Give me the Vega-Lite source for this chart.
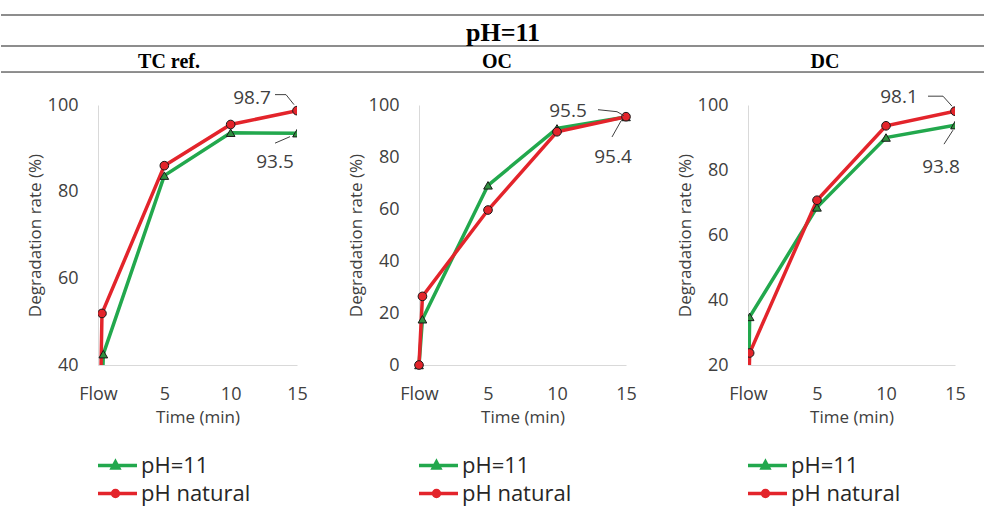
{
  "$schema": "https://vega.github.io/schema/vega-lite/v6.json",
  "padding": {"left": 0, "top": 14, "right": 0, "bottom": 0},
  "background": "white",
  "datasets": {
    "d": [
      {"panel": "TC ref.", "series": "pH=11", "t": 0, "rate": 0},
      {"panel": "TC ref.", "series": "pH=11", "t": 0.4, "rate": 42.5},
      {"panel": "TC ref.", "series": "pH=11", "t": 5, "rate": 83.7},
      {"panel": "TC ref.", "series": "pH=11", "t": 10, "rate": 93.6},
      {"panel": "TC ref.", "series": "pH=11", "t": 15, "rate": 93.5},
      {"panel": "TC ref.", "series": "pH natural", "t": 0, "rate": 0},
      {"panel": "TC ref.", "series": "pH natural", "t": 0.3, "rate": 51.9},
      {"panel": "TC ref.", "series": "pH natural", "t": 5, "rate": 86},
      {"panel": "TC ref.", "series": "pH natural", "t": 10, "rate": 95.5},
      {"panel": "TC ref.", "series": "pH natural", "t": 15, "rate": 98.7},
      {"panel": "OC", "series": "pH=11", "t": 0, "rate": 0},
      {"panel": "OC", "series": "pH=11", "t": 0.25, "rate": 17.6},
      {"panel": "OC", "series": "pH=11", "t": 5, "rate": 69.1},
      {"panel": "OC", "series": "pH=11", "t": 10, "rate": 91},
      {"panel": "OC", "series": "pH=11", "t": 15, "rate": 95.4},
      {"panel": "OC", "series": "pH natural", "t": 0, "rate": 0},
      {"panel": "OC", "series": "pH natural", "t": 0.25, "rate": 26.4},
      {"panel": "OC", "series": "pH natural", "t": 5, "rate": 59.6},
      {"panel": "OC", "series": "pH natural", "t": 10, "rate": 89.7},
      {"panel": "OC", "series": "pH natural", "t": 15, "rate": 95.5},
      {"panel": "DC", "series": "pH=11", "t": 0, "rate": 0},
      {"panel": "DC", "series": "pH=11", "t": 0.12, "rate": 34.8},
      {"panel": "DC", "series": "pH=11", "t": 5, "rate": 68.5},
      {"panel": "DC", "series": "pH=11", "t": 10, "rate": 90},
      {"panel": "DC", "series": "pH=11", "t": 15, "rate": 93.8},
      {"panel": "DC", "series": "pH natural", "t": 0, "rate": 0},
      {"panel": "DC", "series": "pH natural", "t": 0.12, "rate": 23.7},
      {"panel": "DC", "series": "pH natural", "t": 5, "rate": 70.7},
      {"panel": "DC", "series": "pH natural", "t": 10, "rate": 93.6},
      {"panel": "DC", "series": "pH natural", "t": 15, "rate": 98.1}
    ],
    "titles": [
      {"level": "main", "label": "pH=11"},
      {"level": "panel", "label": "TC ref."},
      {"level": "panel", "label": "OC"},
      {"level": "panel", "label": "DC"}
    ]
  },
  "bounds": "flush",
  "spacing": 29,
  "resolve": {"scale": {"x": "independent", "y": "independent", "color": "independent"}},
  "vconcat": [
    {
      "width": 984,
      "height": 61,
      "data": {"name": "titles"},
      "layer": [
        {
          "mark": {"type": "rule", "color": "#8c8c8c", "strokeWidth": 1.5},
          "encoding": {"y": {"datum": 0, "type": "quantitative", "scale": {"domain": [0, 61], "reverse": true}, "axis": null}}
        },
        {
          "mark": {"type": "rule", "color": "#8c8c8c", "strokeWidth": 1.5},
          "encoding": {"y": {"datum": 33, "type": "quantitative"}}
        },
        {
          "mark": {"type": "rule", "color": "#8c8c8c", "strokeWidth": 1.5},
          "encoding": {"y": {"datum": 61, "type": "quantitative"}}
        },
        {
          "transform": [{"filter": "datum.level == 'main'"}],
          "mark": {"type": "text", "font": "Liberation Serif", "fontWeight": "bold", "fontSize": 26, "baseline": "alphabetic", "dx": 10, "color": "black"},
          "encoding": {
            "text": {"field": "label", "type": "nominal"},
            "y": {"datum": 27.3, "type": "quantitative"}
          }
        },
        {
          "transform": [{"filter": "datum.level == 'panel'"}],
          "mark": {"type": "text", "font": "Liberation Serif", "fontWeight": "bold", "fontSize": 20, "baseline": "alphabetic", "dx": 4, "color": "black"},
          "encoding": {
            "text": {"field": "label", "type": "nominal"},
            "x": {"field": "label", "type": "nominal", "scale": {"type": "band", "domain": ["TC ref.", "OC", "DC"], "paddingInner": 0, "paddingOuter": 0}, "axis": null},
            "y": {"datum": 56, "type": "quantitative"}
          }
        }
      ]
    },
    {
      "bounds": "flush",
      "spacing": 0,
      "hconcat": [
        {"width": 97, "height": 1, "data": {"values": []}, "mark": "point"},
        {
          "bounds": "flush",
          "spacing": 122,
          "resolve": {"scale": {"x": "independent", "y": "independent", "color": "independent"}, "legend": {"color": "independent"}},
          "hconcat": [
            {
              "width": 199,
              "height": 260,
              "data": {"name": "d"},
              "transform": [{"filter": "datum.panel == 'TC ref.'"}],
              "encoding": {
                "x": {"field": "t", "type": "quantitative", "scale": {"domain": [0, 15]}, "axis": {"values": [0, 5, 10, 15], "labelExpr": "datum.value == 0 ? 'Flow' : datum.label", "title": "Time (min)"}},
                "y": {"field": "rate", "type": "quantitative", "scale": {"domain": [40, 100]}, "axis": {"values": [40, 60, 80, 100], "title": "Degradation rate (%)"}}
              },
              "layer": [
                {
                  "mark": {"type": "line", "strokeWidth": 3.5, "clip": true},
                  "encoding": {"color": {"field": "series", "type": "nominal", "scale": {"domain": ["pH=11", "pH natural"], "range": ["#22a84d", "#e3242b"]},
                    "legend": {"encode": {"symbols": {"update": {
                      "shape": {"signal": "datum.value === 'pH=11' ? 'M-1.28,0L0.72,0M-0.28,-0.16L-0.13,0.12L-0.43,0.12Z' : 'M-1.28,0L0.72,0M-0.42,0A0.14,0.14 0 1,0 -0.14,0A0.14,0.14 0 1,0 -0.42,0Z'"},
                      "fill": {"signal": "datum.value === 'pH=11' ? '#2f8f3f' : '#e3242b'"},
                      "stroke": {"signal": "datum.value === 'pH=11' ? '#22a84d' : '#e3242b'"},
                      "strokeWidth": {"value": 3.5}
                    }}}}}}
                },
                {
                  "transform": [{"filter": "datum.series == 'pH=11'"}],
                  "mark": {"type": "point", "shape": "triangle-up", "filled": true, "size": 75, "fill": "#2f8f3f", "stroke": "#1a1a1a", "strokeWidth": 1, "opacity": 1, "clip": true}
                },
                {
                  "transform": [{"filter": "datum.series == 'pH natural'"}],
                  "mark": {"type": "point", "shape": "circle", "filled": true, "size": 75, "fill": "#e3242b", "stroke": "#1a1a1a", "strokeWidth": 1, "opacity": 1, "clip": true}
                },
                {
                  "transform": [{"filter": "datum.t == 15 && datum.series == 'pH natural'"}],
                  "mark": {"type": "text", "dx": -45, "dy": -12.6, "fontSize": 19, "color": "#404040", "font": "Open Sans"},
                  "encoding": {"text": {"field": "rate", "type": "quantitative", "format": ".1f"}}
                },
                {
                  "transform": [{"filter": "datum.t == 15 && datum.series == 'pH=11'"}],
                  "mark": {"type": "text", "dx": -22, "dy": 28.5, "fontSize": 19, "color": "#404040", "font": "Open Sans"},
                  "encoding": {"text": {"field": "rate", "type": "quantitative", "format": ".1f"}}
                },
                {
                  "transform": [{"filter": "datum.t == 15 && datum.series == 'pH natural'"}],
                  "mark": {"type": "rule", "color": "#404040", "strokeWidth": 1, "xOffset": -22, "yOffset": -16, "x2Offset": -11, "y2Offset": -16},
                  "encoding": {"x2": {"field": "t"}, "y2": {"field": "rate"}}
                },
                {
                  "transform": [{"filter": "datum.t == 15 && datum.series == 'pH natural'"}],
                  "mark": {"type": "rule", "color": "#404040", "strokeWidth": 1, "xOffset": -11, "yOffset": -16, "x2Offset": -3, "y2Offset": -6},
                  "encoding": {"x2": {"field": "t"}, "y2": {"field": "rate"}}
                },
                {
                  "transform": [{"filter": "datum.t == 15 && datum.series == 'pH=11'"}],
                  "mark": {"type": "rule", "color": "#404040", "strokeWidth": 1, "xOffset": -22, "yOffset": 10, "x2Offset": -7, "y2Offset": 3.5},
                  "encoding": {"x2": {"field": "t"}, "y2": {"field": "rate"}}
                }
              ]
            },
            {
              "width": 207,
              "height": 260,
              "data": {"name": "d"},
              "transform": [{"filter": "datum.panel == 'OC'"}],
              "encoding": {
                "x": {"field": "t", "type": "quantitative", "scale": {"domain": [0, 15]}, "axis": {"values": [0, 5, 10, 15], "labelExpr": "datum.value == 0 ? 'Flow' : datum.label", "title": "Time (min)"}},
                "y": {"field": "rate", "type": "quantitative", "scale": {"domain": [0, 100]}, "axis": {"values": [0, 20, 40, 60, 80, 100], "title": "Degradation rate (%)"}}
              },
              "layer": [
                {
                  "mark": {"type": "line", "strokeWidth": 3.5},
                  "encoding": {"color": {"field": "series", "type": "nominal", "scale": {"domain": ["pH=11", "pH natural"], "range": ["#22a84d", "#e3242b"]},
                    "legend": {"encode": {"symbols": {"update": {
                      "shape": {"signal": "datum.value === 'pH=11' ? 'M-1.28,0L0.72,0M-0.28,-0.16L-0.13,0.12L-0.43,0.12Z' : 'M-1.28,0L0.72,0M-0.42,0A0.14,0.14 0 1,0 -0.14,0A0.14,0.14 0 1,0 -0.42,0Z'"},
                      "fill": {"signal": "datum.value === 'pH=11' ? '#2f8f3f' : '#e3242b'"},
                      "stroke": {"signal": "datum.value === 'pH=11' ? '#22a84d' : '#e3242b'"},
                      "strokeWidth": {"value": 3.5}
                    }}}}}}
                },
                {
                  "transform": [{"filter": "datum.series == 'pH=11'"}],
                  "mark": {"type": "point", "shape": "triangle-up", "filled": true, "size": 75, "fill": "#2f8f3f", "stroke": "#1a1a1a", "strokeWidth": 1, "opacity": 1}
                },
                {
                  "transform": [{"filter": "datum.series == 'pH natural'"}],
                  "mark": {"type": "point", "shape": "circle", "filled": true, "size": 75, "fill": "#e3242b", "stroke": "#1a1a1a", "strokeWidth": 1, "opacity": 1}
                },
                {
                  "transform": [{"filter": "datum.t == 15 && datum.series == 'pH natural'"}],
                  "mark": {"type": "text", "dx": -58, "dy": -6, "fontSize": 19, "color": "#404040", "font": "Open Sans"},
                  "encoding": {"text": {"field": "rate", "type": "quantitative", "format": ".1f"}}
                },
                {
                  "transform": [{"filter": "datum.t == 15 && datum.series == 'pH=11'"}],
                  "mark": {"type": "text", "dx": -13, "dy": 40, "fontSize": 19, "color": "#404040", "font": "Open Sans"},
                  "encoding": {"text": {"field": "rate", "type": "quantitative", "format": ".1f"}}
                },
                {
                  "transform": [{"filter": "datum.t == 15 && datum.series == 'pH natural'"}],
                  "mark": {"type": "rule", "color": "#404040", "strokeWidth": 1, "xOffset": -28, "yOffset": -7, "x2Offset": -9, "y2Offset": -5},
                  "encoding": {"x2": {"field": "t"}, "y2": {"field": "rate"}}
                },
                {
                  "transform": [{"filter": "datum.t == 15 && datum.series == 'pH natural'"}],
                  "mark": {"type": "rule", "color": "#404040", "strokeWidth": 1, "xOffset": -9, "yOffset": -5, "x2Offset": -2, "y2Offset": -1},
                  "encoding": {"x2": {"field": "t"}, "y2": {"field": "rate"}}
                },
                {
                  "transform": [{"filter": "datum.t == 15 && datum.series == 'pH=11'"}],
                  "mark": {"type": "rule", "color": "#404040", "strokeWidth": 1, "xOffset": -14, "yOffset": 20, "x2Offset": -5, "y2Offset": 4},
                  "encoding": {"x2": {"field": "t"}, "y2": {"field": "rate"}}
                }
              ]
            },
            {
              "width": 207,
              "height": 260,
              "data": {"name": "d"},
              "transform": [{"filter": "datum.panel == 'DC'"}],
              "encoding": {
                "x": {"field": "t", "type": "quantitative", "scale": {"domain": [0, 15]}, "axis": {"values": [0, 5, 10, 15], "labelExpr": "datum.value == 0 ? 'Flow' : datum.label", "title": "Time (min)"}},
                "y": {"field": "rate", "type": "quantitative", "scale": {"domain": [20, 100]}, "axis": {"values": [20, 40, 60, 80, 100], "title": "Degradation rate (%)"}}
              },
              "layer": [
                {
                  "mark": {"type": "line", "strokeWidth": 3.5, "clip": true},
                  "encoding": {"color": {"field": "series", "type": "nominal", "scale": {"domain": ["pH=11", "pH natural"], "range": ["#22a84d", "#e3242b"]},
                    "legend": {"encode": {"symbols": {"update": {
                      "shape": {"signal": "datum.value === 'pH=11' ? 'M-1.28,0L0.72,0M-0.28,-0.16L-0.13,0.12L-0.43,0.12Z' : 'M-1.28,0L0.72,0M-0.42,0A0.14,0.14 0 1,0 -0.14,0A0.14,0.14 0 1,0 -0.42,0Z'"},
                      "fill": {"signal": "datum.value === 'pH=11' ? '#2f8f3f' : '#e3242b'"},
                      "stroke": {"signal": "datum.value === 'pH=11' ? '#22a84d' : '#e3242b'"},
                      "strokeWidth": {"value": 3.5}
                    }}}}}}
                },
                {
                  "transform": [{"filter": "datum.series == 'pH=11'"}],
                  "mark": {"type": "point", "shape": "triangle-up", "filled": true, "size": 75, "fill": "#2f8f3f", "stroke": "#1a1a1a", "strokeWidth": 1, "opacity": 1, "clip": true}
                },
                {
                  "transform": [{"filter": "datum.series == 'pH natural'"}],
                  "mark": {"type": "point", "shape": "circle", "filled": true, "size": 75, "fill": "#e3242b", "stroke": "#1a1a1a", "strokeWidth": 1, "opacity": 1, "clip": true}
                },
                {
                  "transform": [{"filter": "datum.t == 15 && datum.series == 'pH natural'"}],
                  "mark": {"type": "text", "dx": -56, "dy": -14, "fontSize": 19, "color": "#404040", "font": "Open Sans"},
                  "encoding": {"text": {"field": "rate", "type": "quantitative", "format": ".1f"}}
                },
                {
                  "transform": [{"filter": "datum.t == 15 && datum.series == 'pH=11'"}],
                  "mark": {"type": "text", "dx": -14, "dy": 42, "fontSize": 19, "color": "#404040", "font": "Open Sans"},
                  "encoding": {"text": {"field": "rate", "type": "quantitative", "format": ".1f"}}
                },
                {
                  "transform": [{"filter": "datum.t == 15 && datum.series == 'pH natural'"}],
                  "mark": {"type": "rule", "color": "#404040", "strokeWidth": 1, "xOffset": -27, "yOffset": -15, "x2Offset": -12, "y2Offset": -15},
                  "encoding": {"x2": {"field": "t"}, "y2": {"field": "rate"}}
                },
                {
                  "transform": [{"filter": "datum.t == 15 && datum.series == 'pH natural'"}],
                  "mark": {"type": "rule", "color": "#404040", "strokeWidth": 1, "xOffset": -12, "yOffset": -15, "x2Offset": -3, "y2Offset": -5},
                  "encoding": {"x2": {"field": "t"}, "y2": {"field": "rate"}}
                },
                {
                  "transform": [{"filter": "datum.t == 15 && datum.series == 'pH=11'"}],
                  "mark": {"type": "rule", "color": "#404040", "strokeWidth": 1, "xOffset": -11, "yOffset": 19, "x2Offset": -2, "y2Offset": 5},
                  "encoding": {"x2": {"field": "t"}, "y2": {"field": "rate"}}
                }
              ]
            }
          ]
        }
      ]
    }
  ],
  "config": {
    "view": {"stroke": null},
    "font": "Open Sans",
    "axis": {
      "domainColor": "#d9d9d9", "domainWidth": 1, "ticks": false, "grid": false,
      "labelFont": "Open Sans", "labelFontSize": 18, "labelColor": "#404040", "labelFlush": false,
      "titleFont": "Open Sans", "titleFontSize": 17, "titleFontWeight": "normal", "titleColor": "#404040"
    },
    "axisX": {"labelPadding": 20, "titlePadding": 6},
    "axisY": {"labelPadding": 20, "titlePadding": 3},
    "legend": {
      "orient": "bottom", "direction": "vertical", "title": null,
      "labelFont": "Open Sans", "labelFontSize": 22, "labelColor": "#262626",
      "symbolSize": 1849, "symbolStrokeWidth": 3.5, "clipHeight": 25, "rowPadding": 3,
      "offset": 28, "labelOffset": -4
    }
  }
}
